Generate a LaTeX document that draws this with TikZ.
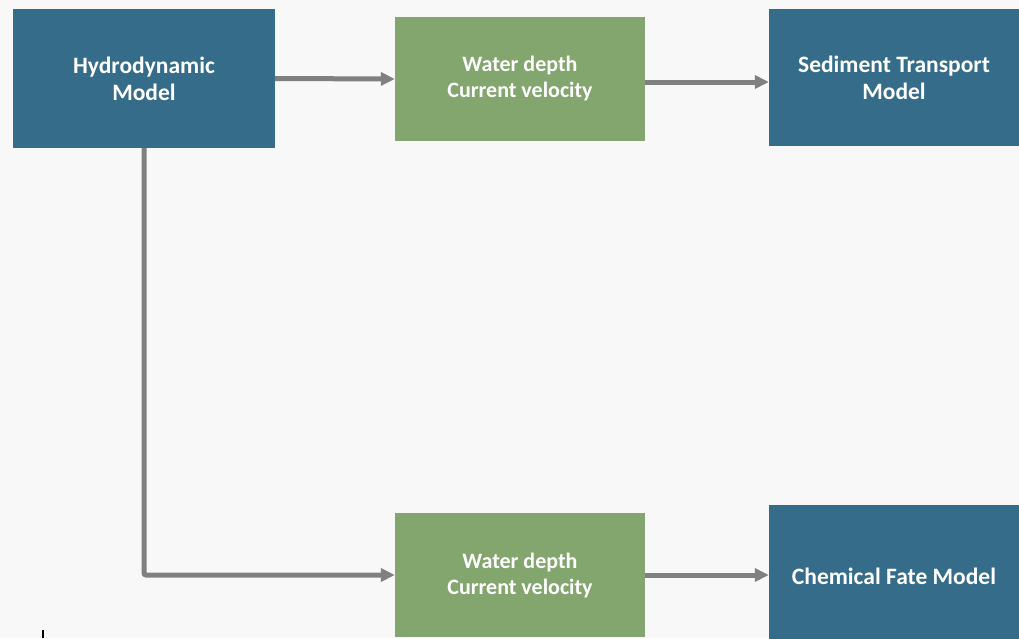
\documentclass[tikz,border=0pt]{standalone}
\usepackage{fontspec}
\setmainfont{Carlito}
\usetikzlibrary{arrows.meta}
\definecolor{bg}{HTML}{F8F8F8}
\definecolor{bluebox}{HTML}{356C89}
\definecolor{greenbox}{HTML}{82A66D}
\definecolor{conn}{HTML}{808080}
\tikzset{
  x=1pt,y=-1pt,
  model/.style={fill=bluebox,draw=none,text=white,font=\bfseries\fontsize{23.5}{27}\selectfont,align=center,inner sep=0pt},
  data/.style={fill=greenbox,draw=none,text=white,font=\bfseries\fontsize{22}{26}\selectfont,align=center,inner sep=0pt},
  link/.style={draw=conn,line width=5pt,-{Triangle[length=14pt,width=13pt]}},
}
\begin{document}
\begin{tikzpicture}
\fill[bg] (0,0) rectangle (1019,638);
\useasboundingbox (0,0) rectangle (1019,638);
\node[model,minimum width=262pt,minimum height=139pt] (hydro) at (144,78.5) {Hydrodynamic\\Model};
\node[data,minimum width=250pt,minimum height=124pt] (g1) at (520,79) {Water depth\\Current velocity};
\node[model,minimum width=256pt,minimum height=137pt] (sed) at (897,77.5) {\hspace*{-6pt}Sediment Transport\\\hspace*{-6pt}Model};
\node[data,minimum width=250pt,minimum height=124pt] (g2) at (520,575) {Water depth\\Current velocity};
\node[model,minimum width=256pt,minimum height=142pt] (chem) at (897,576) {\hspace*{-6pt}Chemical Fate Model};
\draw[link] (hydro.east) -- (g1.west);
\draw[link] ([yshift=-3pt]g1.east) -- ([yshift=-3pt]g1.east -| sed.west);
\draw[link,rounded corners=2pt] (hydro.south) |- (g2.west);
\draw[link] (g2.east) -- (g2.east -| chem.west);
\coordinate (tk1) at (43,630);
\coordinate (tk2) at (43,638);
\draw[black,line width=2pt] (tk1) -- (tk2);
\end{tikzpicture}
\end{document}
